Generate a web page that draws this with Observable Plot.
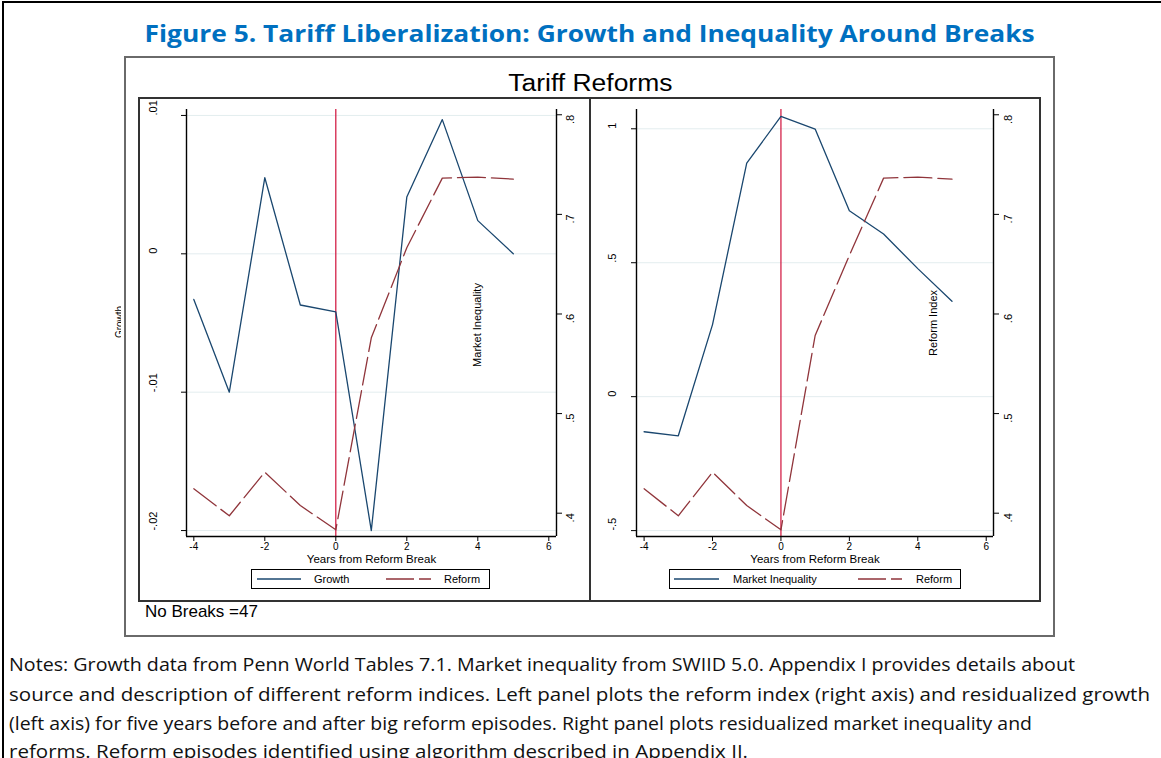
<!DOCTYPE html>
<html>
<head>
<meta charset="utf-8">
<script src="https://cdn.jsdelivr.net/npm/d3@7"></script>
<script src="https://cdn.jsdelivr.net/npm/@observablehq/plot@0.6"></script>
<style>
  html, body { margin: 0; padding: 0; background: #fff; }
  body { width: 1161px; height: 758px; overflow: hidden; position: relative; font-family: "Liberation Sans", Arial, sans-serif; }
  .abs { position: absolute; }
  .fit { display: inline-block; white-space: nowrap; }
  .legend { position: absolute; box-sizing: border-box; border: 1.3px solid #000; background: #fff; font-size: 11px; }
  .legend span { position: absolute; top: 2px; line-height: 14px; }
  .legend svg { position: absolute; top: 0; left: 0; }
  .rot { position: absolute; transform: translate(-50%, -50%) rotate(-90deg); white-space: nowrap; font-size: 11px; line-height: 12px; }
</style>
</head>
<body>
<div class="abs" style="left:2px;top:1px;width:1170px;height:780px;border-top:2.5px solid #000;border-left:2.5px solid #000;"></div>

<div id="title" class="abs" style="left:90px;top:17px;width:1000px;text-align:center;font-family:'Open Sans',sans-serif;font-weight:700;font-size:24px;line-height:32px;color:#0070c0;"><span class="fit" id="titleText">Figure 5. Tariff Liberalization: Growth and Inequality Around Breaks</span></div>

<div class="abs" style="left:124px;top:56px;width:931px;height:581px;box-sizing:border-box;border:2px solid #6a6a6a;"></div>
<div class="abs" style="left:390px;top:68px;width:400px;text-align:center;font-size:21px;line-height:30px;"><span class="fit" id="panelTitle">Tariff Reforms</span></div>
<div class="abs" style="left:138px;top:97px;width:453px;height:505px;box-sizing:border-box;border:2px solid #333;"></div>
<div class="abs" style="left:589px;top:97px;width:452px;height:505px;box-sizing:border-box;border:2px solid #333;"></div>
<div class="abs" style="left:145px;top:601px;font-size:17px;line-height:22px;">No Breaks =47</div>

<div class="abs" style="left:113px;top:290px;width:8px;height:60px;overflow:hidden;">
  <div class="rot" style="left:6.5px;top:32px;font-size:10px;">Growth</div>
</div>

<div id="leftBase" class="abs" style="left:140px;top:99px;"></div>
<div id="leftOver" class="abs" style="left:140px;top:99px;"></div>
<div id="rightBase" class="abs" style="left:591px;top:99px;"></div>
<div id="rightOver" class="abs" style="left:591px;top:99px;"></div>

<div class="rot" style="left:477px;top:325px;">Market Inequality</div>
<div class="rot" style="left:933px;top:323px;">Reform Index</div>

<div class="legend" style="left:251px;top:569px;width:239px;height:20px;">
  <svg width="239" height="20"><line x1="5" x2="49" y1="9" y2="9" stroke="#1a476f" stroke-width="1.3"/><line x1="134" x2="179" y1="9" y2="9" stroke="#90353b" stroke-width="1.3" stroke-dasharray="28,5"/></svg>
  <span style="left:62px;">Growth</span>
  <span style="left:192px;">Reform</span>
</div>
<div class="legend" style="left:669px;top:569px;width:292px;height:20px;">
  <svg width="292" height="20"><line x1="4" x2="49" y1="9" y2="9" stroke="#1a476f" stroke-width="1.3"/><line x1="188" x2="232" y1="9" y2="9" stroke="#90353b" stroke-width="1.3" stroke-dasharray="28,5"/></svg>
  <span style="left:63px;">Market Inequality</span>
  <span style="left:246px;">Reform</span>
</div>

<div id="notes"></div>

<script>
// ---------- data ----------
const years = [-4, -3, -2, -1, 0, 1, 2, 3, 4, 5];
const growth = [-0.0033, -0.0100, 0.0055, -0.0037, -0.0042, -0.0200, 0.0041, 0.0097, 0.0024, 0.0000];
const reformLeft = [0.4245, 0.3974, 0.4412, 0.4077, 0.3833, 0.5761, 0.6665, 0.7364, 0.7374, 0.7354];
const marketInequality = [-0.131, -0.146, 0.269, 0.872, 1.046, 0.999, 0.694, 0.607, 0.478, 0.356];
const reformRight = [0.4245, 0.3974, 0.4412, 0.4077, 0.3833, 0.5784, 0.6587, 0.7364, 0.7374, 0.7354];

const xTicks = [-4, -2, 0, 2, 4, 6];
const growthTicks = [-0.02, -0.01, 0, 0.01];
const growthTickLabels = ["-.02", "-.01", "0", ".01"];
const ineqTicks = [-0.5, 0, 0.5, 1];
const ineqTickLabels = ["-.5", "0", ".5", "1"];
const reformTicks = [0.4, 0.5, 0.6, 0.7, 0.8];
const reformTickLabels = [".4", ".5", ".6", ".7", ".8"];
const xLabel = "Years from Reform Break";

const noteLines = [
  "Notes: Growth data from Penn World Tables 7.1. Market inequality from SWIID 5.0. Appendix I provides details about",
  "source and description of different reform indices. Left panel plots the reform index (right axis) and residualized growth",
  "(left axis) for five years before and after big reform episodes. Right panel plots residualized market inequality and",
  "reforms. Reform episodes identified using algorithm described in Appendix II."
];

// ---------- styles ----------
const NAVY = "#1a476f", MAROON = "#90353b", RED = "#d0103a", GRID = "#e3edef";
const FONT = "Liberation Sans, Arial, sans-serif";

function rows(ys) { return years.map((year, i) => ({year, value: ys[i]})); }

function basePlot(cfg) {
  return Plot.plot({
    width: cfg.width, height: cfg.height,
    marginLeft: cfg.mL, marginRight: cfg.mR, marginTop: cfg.mT, marginBottom: cfg.mB,
    x: {domain: cfg.xDomain},
    y: {domain: cfg.yDomain},
    style: {background: "transparent", fontFamily: FONT, fontSize: "11px", color: "#000", overflow: "visible"},
    marks: [
      Plot.ruleY(cfg.yTicks, {stroke: GRID, strokeWidth: 1}),
      Plot.ruleX([0], {stroke: RED, strokeWidth: 1.2}),
      Plot.line(rows(cfg.series), {x: "year", y: "value", stroke: NAVY, strokeWidth: 1.3}),
      Plot.ruleX([cfg.xDomain[0]], {stroke: "#000", strokeWidth: 1.4}),
      Plot.ruleX([cfg.xDomain[1]], {stroke: "#000", strokeWidth: 1.4}),
      Plot.ruleY([cfg.yDomain[0]], {stroke: "#000", strokeWidth: 1.4}),
      Plot.axisX({ticks: xTicks, tickSize: 5, tickPadding: 1, tickFormat: d => String(d), label: null, fontSize: 10}),
      Plot.axisY({ticks: cfg.yTicks, tickSize: 5, tickFormat: () => "", label: null}),
      Plot.text(cfg.yTicks, {y: d => d, frameAnchor: "left", dx: cfg.dxL, rotate: -90, text: (d, i) => cfg.yLabels[i], fontSize: 11}),
      Plot.text([xLabel], {frameAnchor: "bottom", lineAnchor: "middle", dy: 23, fontSize: 11.5})
    ]
  });
}

function overPlot(cfg) {
  return Plot.plot({
    width: cfg.width, height: cfg.height,
    marginLeft: cfg.mL, marginRight: cfg.mR, marginTop: cfg.mT, marginBottom: cfg.mB,
    x: {domain: cfg.xDomain, axis: null},
    y: {domain: cfg.y2Domain},
    style: {background: "transparent", fontFamily: FONT, fontSize: "11px", color: "#000", overflow: "visible"},
    marks: [
      Plot.line(rows(cfg.series2), {x: "year", y: "value", stroke: MAROON, strokeWidth: 1.3, strokeDasharray: "28,6"}),
      Plot.axisY({anchor: "right", ticks: reformTicks, tickSize: 5, tickFormat: () => "", label: null}),
      Plot.text(reformTicks, {y: d => d, frameAnchor: "right", dx: cfg.dxR, rotate: -90, text: (d, i) => reformTickLabels[i], fontSize: 11})
    ]
  });
}

const leftCfg = {
  width: 449, height: 465, mL: 46, mR: 33, mT: 10, mB: 28,
  xDomain: [-4.206, 6.217],
  yDomain: [-0.02043, 0.01043], yTicks: growthTicks, yLabels: growthTickLabels, series: growth,
  y2Domain: [0.3766, 0.8053], series2: reformLeft,
  dxL: -33, dxR: 14
};
const rightCfg = {
  width: 448, height: 465, mL: 45, mR: 46, mT: 10, mB: 28,
  xDomain: [-4.222, 6.213],
  yDomain: [-0.522, 1.072], yTicks: ineqTicks, yLabels: ineqTickLabels, series: marketInequality,
  y2Domain: [0.3766, 0.8053], series2: reformRight,
  dxL: -24, dxR: 15
};

document.getElementById("leftBase").appendChild(basePlot(leftCfg));
document.getElementById("leftOver").appendChild(overPlot(leftCfg));
document.getElementById("rightBase").appendChild(basePlot(rightCfg));
document.getElementById("rightOver").appendChild(overPlot(rightCfg));

// ---------- text width fitting ----------
function fitWidth(el, target, origin) {
  el.style.transformOrigin = origin;
  const w = el.getBoundingClientRect().width;
  el.style.transform = `scaleX(${target / w})`;
}
fitWidth(document.getElementById("titleText"), 890, "center center");
const pt = document.getElementById("panelTitle");
pt.style.fontSize = "23px";
fitWidth(pt, 164, "center center");

// ---------- notes ----------
const notes = document.getElementById("notes");
const noteTargets = [1066, 1141, 1023, 739];
const noteTops = [650, 680, 709, 737];
noteLines.forEach((line, i) => {
  const d = document.createElement("div");
  d.className = "abs";
  d.style.cssText = `left:9px;top:${noteTops[i]}px;font-family:'Open Sans',sans-serif;font-size:18px;line-height:28px;color:#111;`;
  const s = document.createElement("span");
  s.className = "fit";
  s.textContent = line;
  d.appendChild(s);
  notes.appendChild(d);
  fitWidth(s, noteTargets[i], "left center");
});
</script>
</body>
</html>
